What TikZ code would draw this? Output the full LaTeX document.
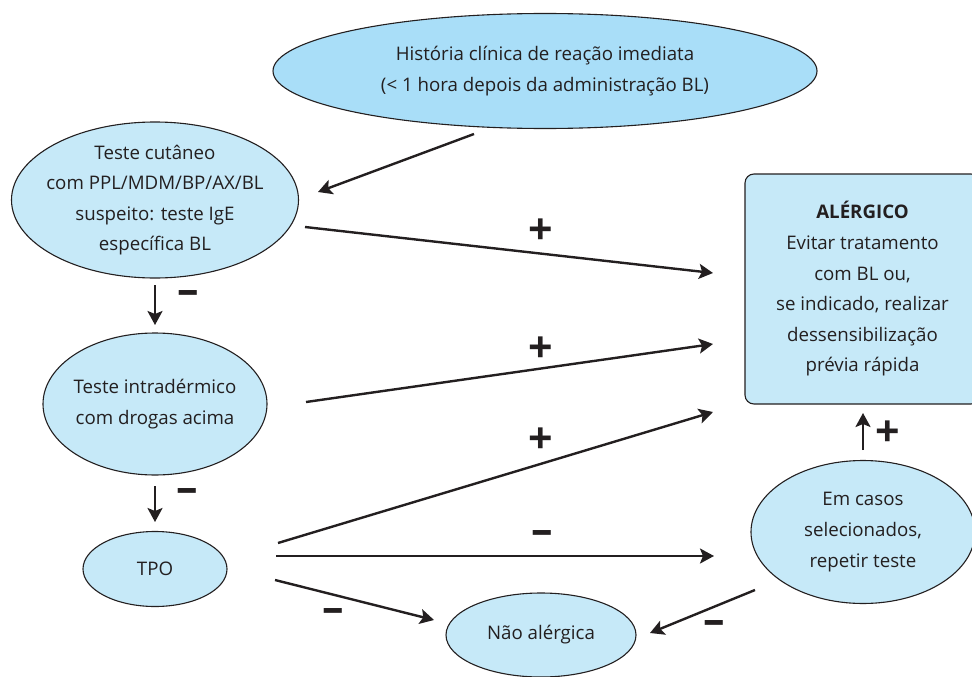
\documentclass[tikz,border=0pt]{standalone}
\usepackage{fontspec}
\setmainfont{Open Sans}
\usetikzlibrary{shapes.geometric,arrows.meta}
\definecolor{topfill}{HTML}{A9DEF8}
\definecolor{nodefill}{HTML}{C6E9F8}
\definecolor{ink}{HTML}{231F20}
\begin{document}
\begin{tikzpicture}[x=1pt,y=-1pt,
  every node/.style={font=\fontsize{18.7}{30.6}\selectfont, text=ink},
  oval/.style={ellipse, draw=ink, line width=1.1pt, fill=nodefill, inner sep=0pt},
  txt/.style={align=center, inner sep=0pt},
  resultbox/.style={rectangle, rounded corners=9pt, draw=ink, line width=1.1pt, fill=nodefill, inner sep=0pt, align=center},
  conn/.style={draw=ink, line width=2.4pt, -{Stealth[length=14pt,width=15pt,inset=3pt]}},
  sign/.style={font=\fontsize{43}{43}\selectfont\bfseries, inner sep=0pt, text=ink}
]
\useasboundingbox (0,0) rectangle (972,677);

% nodes
\node[oval, fill=topfill, minimum width=544pt, minimum height=115pt,
  label={[txt]center:{História clínica de reação imediata\\(< 1 hora depois da administração BL)}}] (hist) at (545,71) {};
\node[oval, minimum width=287pt, minimum height=156pt,
  label={[txt]center:{Teste cutâneo\\com PPL/MDM/BP/AX/BL\\suspeito: teste IgE\\específica BL}}] (cut) at (155,200) {};
\node[oval, minimum width=224pt, minimum height=142pt,
  label={[txt]center:{Teste intradérmico\\com drogas acima}}] (intra) at (155,404) {};
\node[oval, minimum width=144pt, minimum height=75pt,
  label={[txt]center:{TPO}}] (tpo) at (155,569) {};
\node[oval, minimum width=190pt, minimum height=84pt,
  label={[txt]center:{Não alérgica}}] (nao) at (541,635) {};
\node[oval, minimum width=224pt, minimum height=143pt,
  label={[txt]center:{Em casos\\selecionados,\\repetir teste}}] (casos) at (863,532) {};
\node[resultbox, minimum width=235pt, minimum height=230pt] (alerg) at (862.5,289)
  {\textbf{ALÉRGICO}\\Evitar tratamento\\com BL ou,\\se indicado, realizar\\dessensibilização\\prévia rápida};

% connector end points
\coordinate (histS) at (474,134);   \coordinate (cutE) at (318,192);
\coordinate (cutR) at (305,227);    \coordinate (alergA) at (713,273);
\coordinate (intraR) at (306,402);  \coordinate (alergB) at (713,344);
\coordinate (tpoA) at (278,543);    \coordinate (alergC) at (713,412);
\coordinate (tpoB) at (276,556);    \coordinate (casosW) at (714,556);
\coordinate (tpoC) at (275,580);    \coordinate (naoW) at (434,620);
\coordinate (casosS) at (755,590);  \coordinate (naoE) at (650,633);
\coordinate (casosN) at (863,450);  \coordinate (alergS) at (863,413);
\coordinate (cutS) at (155,285);    \coordinate (intraN) at (155,325);
\coordinate (intraS) at (155,486);  \coordinate (tpoN) at (155,522);

% connectors
\draw[conn] (histS) -- (cutE);
\draw[conn] (cutR) -- (alergA);
\draw[conn] (intraR) -- (alergB);
\draw[conn] (tpoA) -- (alergC);
\draw[conn] (tpoB) -- (casosW);
\draw[conn] (tpoC) -- (naoW);
\draw[conn] (casosS) -- (naoE);
\draw[conn] (casosN) -- (alergS);
\draw[conn] (cutS) -- (intraN);
\draw[conn] (intraS) -- (tpoN);

% signs
\node[sign] (p1) at (541,232) {+};
\node[sign] (p2) at (541,350) {+};
\node[sign] (p3) at (541,441) {+};
\node[sign] (p4) at (888,434) {+};
\node[sign] (m1) at (542,538) {–};
\node[sign] (m2) at (333,616) {–};
\node[sign] (m3) at (714,628) {–};
\node[sign] (m4) at (188,298) {–};
\node[sign] (m5) at (187,496) {–};
\end{tikzpicture}
\end{document}
